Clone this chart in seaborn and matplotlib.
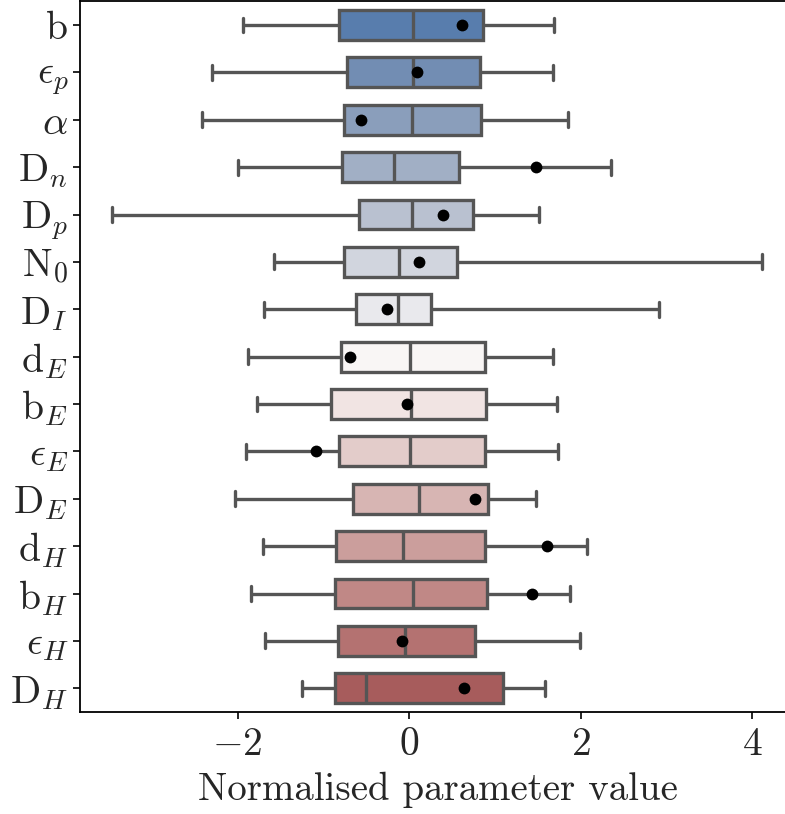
import numpy as np
import pandas as pd
import seaborn as sns
import matplotlib
matplotlib.use("Agg")
import matplotlib.pyplot as plt

# Parameter names (top to bottom)
params = ["b", r"$\epsilon_p$", r"$\alpha$", r"D$_n$", r"D$_p$", r"N$_0$", r"D$_I$",
          r"d$_E$", r"b$_E$", r"$\epsilon_E$", r"D$_E$", r"d$_H$", r"b$_H$",
          r"$\epsilon_H$", r"D$_H$"]

# Five-number summaries: min, Q1, median, Q3, max
mins    = [-1.94, -2.30, -2.41, -1.99, -3.46, -1.58, -1.69, -1.88, -1.77, -1.90, -2.03, -1.70, -1.84, -1.68, -1.25]
q1s     = [-0.82, -0.72, -0.76, -0.78, -0.58, -0.76, -0.62, -0.80, -0.91, -0.82, -0.65, -0.85, -0.87, -0.83, -0.87]
medians = [0.05, 0.05, 0.03, -0.18, 0.03, -0.12, -0.13, 0.01, 0.02, 0.01, 0.11, -0.07, 0.05, -0.05, -0.50]
q3s     = [0.86, 0.83, 0.84, 0.58, 0.75, 0.56, 0.26, 0.89, 0.90, 0.89, 0.92, 0.88, 0.91, 0.77, 1.09]
maxs    = [1.69, 1.68, 1.85, 2.36, 1.51, 4.12, 2.91, 1.68, 1.73, 1.74, 1.48, 2.07, 1.88, 1.99, 1.58]

# Black dots (single point per parameter)
points  = [0.62, 0.09, -0.56, 1.48, 0.40, 0.12, -0.26, -0.69, -0.02, -1.09, 0.77, 1.61, 1.43, -0.08, 0.64]

rows = []
for p, a, b_, c, d, e in zip(params, mins, q1s, medians, q3s, maxs):
    for v in (a, b_, c, d, e):
        rows.append({"param": p, "value": v})
df = pd.DataFrame(rows)
dots = pd.DataFrame({"param": params, "value": points})

sns.set_style("ticks")
plt.rcParams["font.family"] = ["serif"]
plt.rcParams["font.serif"] = ["cmr10"]
plt.rcParams["mathtext.fontset"] = "cm"
plt.rcParams["axes.formatter.use_mathtext"] = True
plt.rcParams["axes.unicode_minus"] = True

fig = plt.figure(figsize=(7.85, 8.14), dpi=100)
ax = fig.add_axes([80/785, 1 - 712/814, (795 - 80)/785, (712 - 1.3)/814])

sns.boxplot(data=df, x="value", y="param", order=params, hue="param", hue_order=params,
            palette="vlag", legend=False, whis=(0, 100), width=0.63,
            linecolor="#555555", linewidth=2.4, ax=ax)
sns.stripplot(data=dots, x="value", y="param", order=params, color="black",
              jitter=False, size=8.5, linewidth=0, ax=ax, zorder=10)

ax.set_xlim(-3.838, 4.50)
ax.set_xticks([-2, 0, 2, 4])
ax.set_ylabel("")
ax.set_xlabel("Normalised parameter value", fontsize=28, labelpad=6)
ax.tick_params(axis="both", labelsize=28.5, length=5, width=1.2, color="black")
ax.tick_params(axis="x", pad=6)
for s in ax.spines.values():
    s.set_linewidth(1.3)
    s.set_color("black")

fig.savefig("out.png", dpi=100)
